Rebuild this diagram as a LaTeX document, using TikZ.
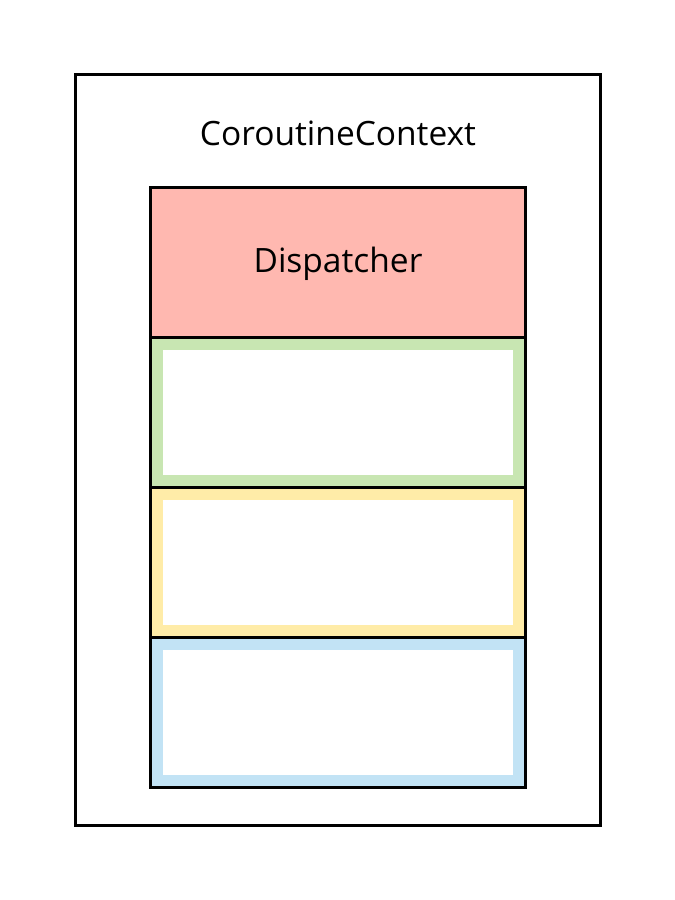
\documentclass[tikz,border=0pt]{standalone}
\usepackage{fontspec}
\setmainfont{Open Sans}
\definecolor{salmon}{HTML}{FFB8B0}
\definecolor{lgreen}{HTML}{C8E6B2}
\definecolor{lyellow}{HTML}{FFECA8}
\definecolor{lblue}{HTML}{C2E3F5}
\begin{document}
\begin{tikzpicture}[x=1pt,y=-1pt,
  frame/.style={draw=black,line width=3pt},
  band/.style={line width=11pt,draw=#1},
  lbl/.style={font=\fontsize{33.5}{38}\selectfont,inner sep=0pt}]
\useasboundingbox (0,0) rectangle (675,900);
\fill[white] (0,0) rectangle (675,900);
% outer context
\draw[frame] (75,74) rectangle (600,825);
\node[lbl] (ctx) at (338,133) {CoroutineContext};
% dispatcher
\fill[salmon] (150,187) rectangle (525,337);
\node[lbl] (disp) at (338,264) {Dispatcher};
% bands
\draw[band=lgreen] (157,344) rectangle (518,480);
\draw[band=lyellow] (157,494) rectangle (518,630);
\draw[band=lblue] (157,644) rectangle (518,780);
% black frames
\draw[frame] (150,187) rectangle (525,337);
\draw[frame] (150,337) rectangle (525,487);
\draw[frame] (150,487) rectangle (525,637);
\draw[frame] (150,637) rectangle (525,787);
\end{tikzpicture}
\end{document}
